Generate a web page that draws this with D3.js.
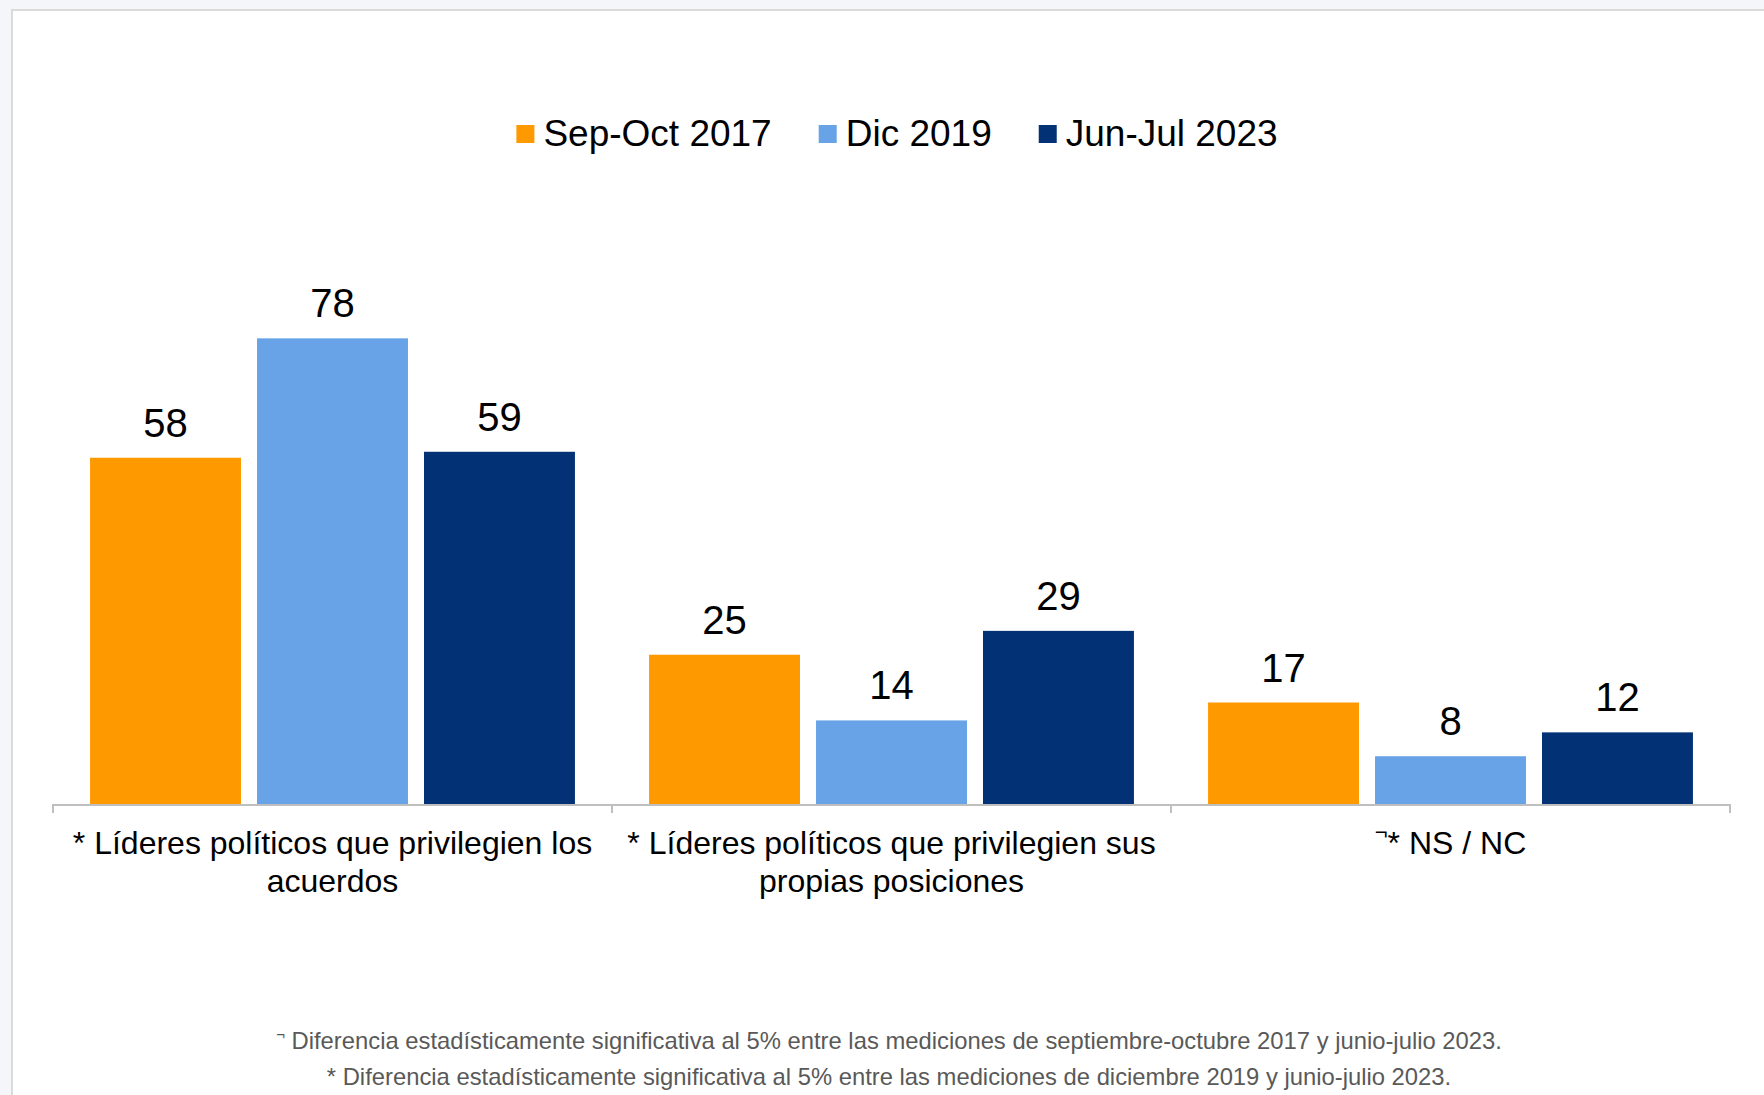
<!DOCTYPE html>
<html><head><meta charset="utf-8">
<script src="https://cdn.jsdelivr.net/npm/d3@7"></script>
<style>
html,body{margin:0;padding:0;background:#f5f6f9;}
svg{display:block;}
text{font-family:"Liberation Sans",Arial,sans-serif;}
</style></head>
<body>
<svg id="chart" width="1764" height="1095"></svg>
<script>
const categories = ["acuerdos", "posiciones", "nsnc"];
const categoryLabels = [
  [{mark:"", text:"* Líderes políticos que privilegien los"}, {mark:"", text:"acuerdos"}],
  [{mark:"", text:"* Líderes políticos que privilegien sus"}, {mark:"", text:"propias posiciones"}],
  [{mark:"¬", text:"* NS / NC"}]
];
const seriesNames = ["Sep-Oct 2017", "Dic 2019", "Jun-Jul 2023"];
const sep2017 = [58, 25, 17];
const dic2019 = [78, 14, 8];
const jun2023 = [59, 29, 12];
const seriesColors = ["#ff9900", "#67a3e6", "#033175"];
const footnotes = [
  {mark:"¬", text:" Diferencia estadísticamente significativa al 5% entre las mediciones de septiembre-octubre 2017 y junio-julio 2023."},
  {mark:"", text:"* Diferencia estadísticamente significativa al 5% entre las mediciones de diciembre 2019 y junio-julio 2023."}
];

const seriesValues = [sep2017, dic2019, jun2023];
const svg = d3.select("#chart");

// frame
svg.append("rect").attr("x",12).attr("y",10).attr("width",1800).attr("height",1200)
  .attr("fill","#ffffff").attr("stroke","#dadada").attr("stroke-width",2);

const left = 53, right = 1730, baseY = 804;
const x0 = d3.scaleBand().domain(categories).range([left, right]).paddingInner(0).paddingOuter(0);
const x1 = d3.scaleBand().domain(seriesNames).range([0, x0.bandwidth()]).paddingInner(0.096).paddingOuter(0.222);
const y = d3.scaleLinear().domain([0, 100]).range([baseY, baseY - 597]);

// bars
const groups = svg.append("g").selectAll("g").data(categories).join("g")
  .attr("transform", d => `translate(${x0(d)},0)`);
groups.each(function(cat, ci){
  const g = d3.select(this);
  const rows = seriesNames.map((s, si) => ({s, v: seriesValues[si][ci], c: seriesColors[si]}));
  g.selectAll("rect").data(rows).join("rect")
    .attr("x", d => x1(d.s)).attr("y", d => y(d.v))
    .attr("width", x1.bandwidth()).attr("height", d => y(0) - y(d.v))
    .attr("fill", d => d.c);
  g.selectAll("text.val").data(rows).join("text").attr("class","val")
    .attr("x", d => x1(d.s) + x1.bandwidth()/2).attr("y", d => y(d.v) - 21)
    .attr("text-anchor","middle").attr("font-size",40).attr("fill","#000")
    .text(d => d.v);
});

// axis
const ax = svg.append("g").attr("stroke","#bfbfbf").attr("stroke-width",2);
ax.append("line").attr("x1",left).attr("x2",right).attr("y1",baseY+1).attr("y2",baseY+1);
const tickXs = categories.map(c => x0(c)).concat([x0(categories[categories.length-1]) + x0.bandwidth()]);
ax.selectAll("line.tick").data(tickXs).join("line").attr("class","tick")
  .attr("x1", d => d).attr("x2", d => d).attr("y1", baseY).attr("y2", baseY + 9);

// category labels
categories.forEach((c, ci) => {
  const cx = x0(c) + x0.bandwidth()/2;
  categoryLabels[ci].forEach((ln, li) => {
    const t = svg.append("text").attr("x", cx).attr("y", 854 + li*37.5)
      .attr("text-anchor","middle").attr("font-size",32).attr("fill","#000");
    if (ln.mark) t.append("tspan").attr("font-size",22).attr("dy",-14).text(ln.mark);
    t.append("tspan").attr("dy", ln.mark ? 14 : 0).text(ln.text);
  });
});

// legend
const legend = svg.append("g");
let lx = 0;
seriesNames.forEach((s, i) => {
  const g = legend.append("g");
  g.append("rect").attr("x", lx).attr("y", -21).attr("width",18).attr("height",18).attr("fill", seriesColors[i]);
  const t = g.append("text").attr("x", lx + 27).attr("y", 0).attr("font-size",37).attr("fill","#000").text(s);
  lx += 27 + t.node().getComputedTextLength() + 47;
});
const lw = lx - 47;
legend.attr("transform", `translate(${897 - lw/2},146)`);

// footnotes
footnotes.forEach((f, i) => {
  const t = svg.append("text").attr("x", 889).attr("y", 1049 + i*36)
    .attr("text-anchor","middle").attr("font-size",23.8).attr("fill","#595959");
  if (f.mark) t.append("tspan").attr("font-size",15).attr("dy",-9).text(f.mark);
  t.append("tspan").attr("dy", f.mark ? 9 : 0).text(f.text);
});
</script>
</body></html>
